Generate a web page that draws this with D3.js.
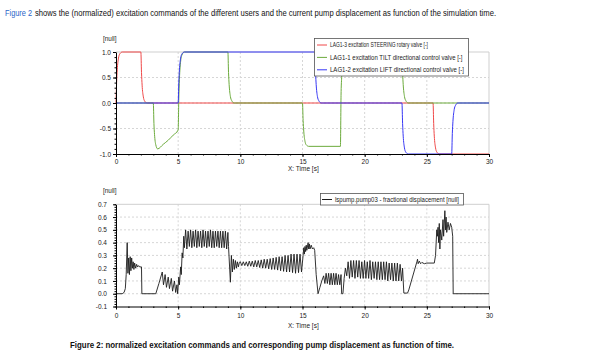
<!DOCTYPE html>
<html>
<head>
<meta charset="utf-8">
<script src="https://cdn.jsdelivr.net/npm/d3@7"></script>
<style>
  body { margin: 0; background: #fff; }
  svg { display: block; font-family: "Liberation Sans", Arial, sans-serif; }
</style>
</head>
<body>
<svg id="chart" width="591" height="360"></svg>
<script>
// ---- data ----
const timeTicks = [0, 5, 10, 15, 20, 25, 30];
const valveTicks = [-1, -0.5, 0, 0.5, 1];
const pumpTicks = [-0.1, 0, 0.1, 0.2, 0.3, 0.4, 0.5, 0.6, 0.7];

const valveNames = [
  "LAG1-3 excitation STEERING rotary valve [-]",
  "LAG1-1 excitation TILT directional control valve [-]",
  "LAG1-2 excitation LIFT directional control valve [-]"
];
const pumpName = "lspump.pump03 - fractional displacement [null]";

// [time s, value]
const steering = [
  [0, 0], [0.05, 0.4], [0.1, 0.65], [0.2, 0.88], [0.3, 0.96], [0.5, 1],
  [2.0, 1], [2.05, 0.6], [2.1, 0.35], [2.2, 0.12], [2.3, 0.04], [2.5, 0],
  [25.5, 0], [25.55, -0.4], [25.6, -0.65], [25.7, -0.88], [25.8, -0.96], [26.0, -1],
  [30, -1]
];
const tilt = [
  [0, 0], [3.0, 0], [3.05, -0.4], [3.1, -0.62], [3.2, -0.82], [3.35, -0.9],
  [3.8, -0.81], [4.2, -0.73], [4.6, -0.63], [5.0, -0.53],
  [5.05, 0.08], [5.1, 0.46], [5.2, 0.82], [5.3, 0.94], [5.5, 1],
  [9.0, 1], [9.05, 0.6], [9.1, 0.36], [9.2, 0.13], [9.3, 0.05], [9.5, 0],
  [15.0, 0], [15.05, -0.34], [15.1, -0.55], [15.2, -0.75], [15.3, -0.82], [15.5, -0.85],
  [18.05, -0.85], [18.1, 0.15], [18.15, 0.5], [18.25, 0.85], [18.35, 0.95], [18.55, 1],
  [23.0, 1], [23.05, 0.6], [23.1, 0.36], [23.2, 0.13], [23.3, 0.05], [23.5, 0],
  [30, 0]
];
const lift = [
  [0, 0], [5.0, 0], [5.05, 0.4], [5.1, 0.65], [5.2, 0.88], [5.3, 0.96], [5.5, 1],
  [16.0, 1], [16.05, 0.6], [16.1, 0.36], [16.2, 0.13], [16.3, 0.05], [16.5, 0],
  [23.0, 0], [23.05, -0.4], [23.1, -0.65], [23.2, -0.88], [23.3, -0.96], [23.5, -1],
  [27.0, -1], [27.05, -0.6], [27.1, -0.36], [27.2, -0.13], [27.3, -0.05], [27.5, 0],
  [30, 0]
];

const pump = [
  [0, 0], [0.5, 0], [0.65, 0.01], [0.75, 0.04], [0.82, 0.15], [0.9, 0.40], [0.96, 0.16],
  [1.02, 0.28], [1.08, 0.15], [1.14, 0.29], [1.2, 0.18], [1.26, 0.28], [1.32, 0.2],
  [1.38, 0.25], [1.44, 0.19], [1.5, 0.24], [1.58, 0.2], [1.66, 0.23], [1.74, 0.21],
  [1.82, 0.22], [1.9, 0.21], [2.05, 0.21], [2.08, 0],
  [3.2, 0], [3.45, 0.08], [3.72, 0.17], [3.82, 0.07], [3.95, 0.15], [4.06, 0.05],
  [4.2, 0.13], [4.3, 0.04], [4.45, 0.12], [4.55, 0.02], [4.7, 0.1], [4.8, 0.01],
  [4.9, 0.07], [4.96, 0], [5.05, 0.13], [5.1, 0.07], [5.2, 0.21], [5.25, 0.15],
  [5.32, 0.32], [5.38, 0.28], [5.45, 0.45],
  [5.5, 0.36], [5.6, 0.50], [5.7, 0.35], [5.8, 0.49], [5.9, 0.37], [6.0, 0.50],
  [6.1, 0.36], [6.2, 0.49], [6.3, 0.37], [6.4, 0.50], [6.5, 0.36], [6.6, 0.49],
  [6.7, 0.37], [6.8, 0.49], [6.9, 0.36], [7.0, 0.50], [7.1, 0.37], [7.2, 0.49],
  [7.3, 0.36], [7.4, 0.49], [7.5, 0.37], [7.6, 0.50], [7.7, 0.36], [7.8, 0.49],
  [7.9, 0.36], [8.0, 0.49], [8.1, 0.37], [8.2, 0.49], [8.3, 0.36], [8.4, 0.49],
  [8.5, 0.36], [8.6, 0.49], [8.7, 0.36], [8.8, 0.49], [8.9, 0.35], [9.0, 0.48],
  [9.05, 0.37], [9.2, 0.09], [9.28, 0.3], [9.36, 0.17], [9.44, 0.27], [9.52, 0.19],
  [9.6, 0.26], [9.68, 0.2], [9.76, 0.25], [9.84, 0.21], [9.92, 0.245],
  [10.0, 0.25], [10.12, 0.22], [10.24, 0.25], [10.36, 0.22], [10.48, 0.25], [10.6, 0.215],
  [10.72, 0.255], [10.84, 0.215], [10.96, 0.255], [11.08, 0.21], [11.2, 0.26], [11.32, 0.21],
  [11.44, 0.26], [11.56, 0.205], [11.68, 0.265], [11.8, 0.2], [11.92, 0.27], [12.04, 0.2],
  [12.16, 0.27], [12.28, 0.195], [12.4, 0.275], [12.52, 0.19], [12.64, 0.28], [12.76, 0.19],
  [12.88, 0.285], [13.0, 0.185], [13.12, 0.29], [13.24, 0.18], [13.36, 0.29], [13.48, 0.175],
  [13.6, 0.3], [13.72, 0.17], [13.84, 0.3], [13.96, 0.17], [14.08, 0.31], [14.2, 0.165],
  [14.32, 0.31], [14.44, 0.16], [14.56, 0.31], [14.68, 0.165], [14.8, 0.31], [14.92, 0.17],
  [15.05, 0.3], [15.1, 0.36], [15.15, 0.31], [15.2, 0.37], [15.25, 0.33], [15.3, 0.38],
  [15.35, 0.34], [15.45, 0.40], [15.5, 0.35], [15.55, 0.39], [15.6, 0.35], [15.7, 0.38],
  [15.8, 0.35], [15.9, 0.36], [15.98, 0.34], [16.1, 0.15], [16.25, 0],
  [16.4, 0.05], [16.55, 0.1], [16.7, 0.14], [16.8, 0.08], [16.9, 0.16], [17.0, 0.08],
  [17.1, 0.16], [17.2, 0.07], [17.3, 0.16], [17.4, 0.07], [17.5, 0.16], [17.6, 0.07],
  [17.7, 0.16], [17.8, 0.07], [17.9, 0.15], [18.0, 0.07], [18.1, 0.15], [18.15, 0],
  [18.25, 0], [18.35, 0.12], [18.45, 0.2],
  [18.56, 0.14], [18.67, 0.25], [18.78, 0.12], [18.89, 0.26], [19.0, 0.13], [19.11, 0.26],
  [19.22, 0.12], [19.33, 0.26], [19.44, 0.13], [19.55, 0.26], [19.66, 0.12], [19.77, 0.25],
  [19.88, 0.12], [19.99, 0.26], [20.1, 0.12], [20.21, 0.25], [20.32, 0.12], [20.43, 0.26],
  [20.54, 0.11], [20.65, 0.25], [20.76, 0.12], [20.87, 0.25], [20.98, 0.11], [21.09, 0.25],
  [21.2, 0.11], [21.31, 0.25], [21.42, 0.11], [21.53, 0.25], [21.64, 0.11], [21.75, 0.25],
  [21.86, 0.1], [21.97, 0.24], [22.08, 0.11], [22.19, 0.24], [22.3, 0.1], [22.41, 0.24],
  [22.52, 0.1], [22.63, 0.24], [22.74, 0.1], [22.85, 0.23], [22.96, 0.1], [23.05, 0.2],
  [23.15, 0.005], [23.45, 0.005], [23.55, 0.03], [24.2, 0.25], [24.25, 0.27], [24.3, 0.235],
  [24.4, 0.255], [24.5, 0.235], [24.6, 0.245], [24.8, 0.235], [25.0, 0.24], [25.6, 0.24],
  [25.7, 0.3], [25.8, 0.5], [25.85, 0.45], [25.9, 0.52], [25.95, 0.4], [26.0, 0.55],
  [26.05, 0.35], [26.1, 0.5], [26.2, 0.42], [26.3, 0.58], [26.35, 0.45], [26.45, 0.65],
  [26.5, 0.5], [26.55, 0.6], [26.6, 0.48], [26.7, 0.56], [26.8, 0.5], [26.9, 0.55],
  [27.0, 0.52], [27.08, 0.45], [27.12, 0], [30, 0]
];

const valveColors = ["#f04848", "#6cab3c", "#3737f5"];
const pumpColor = "#1c1c1c";

// ---- layout ----
const svg = d3.select("#chart");
const x = d3.scaleLinear().domain([0, 30]).range([116, 489]);
const yTop = d3.scaleLinear().domain([-1, 1]).range([154, 52]);
const yBot = d3.scaleLinear().domain([-0.1, 0.7]).range([306.5, 204.3]);

// header text
svg.append("text").attr("x", 5).attr("y", 15.5)
  .attr("font-size", 9).attr("fill", "#2a64c8")
  .attr("textLength", 27).attr("lengthAdjust", "spacingAndGlyphs")
  .text("Figure 2");
svg.append("text").attr("x", 35).attr("y", 15.5)
  .attr("font-size", 9).attr("fill", "#111")
  .attr("textLength", 461).attr("lengthAdjust", "spacingAndGlyphs")
  .text("shows the (normalized) excitation commands of the different users and the current pump displacement as function of the simulation time.");

// caption
svg.append("text").attr("x", 70).attr("y", 348)
  .attr("font-size", 8.2).attr("font-weight", "bold").attr("fill", "#111")
  .attr("textLength", 384).attr("lengthAdjust", "spacingAndGlyphs")
  .text("Figure 2: normalized excitation commands and corresponding pump displacement as function of time.");

function drawPanel(y, yTicks, yMinorStep, yPad, xPad) {
  const g = svg.append("g");
  const [bottom, top] = y.range();
  const [y0, y1] = y.domain();

  // dashed grid
  g.append("g").selectAll("line").data(timeTicks.slice(1, -1)).join("line")
    .attr("x1", d => x(d)).attr("x2", d => x(d))
    .attr("y1", top).attr("y2", bottom)
    .attr("stroke", "#d6d6d6").attr("stroke-dasharray", "2,2");
  g.append("g").selectAll("line").data(yTicks.slice(1, -1)).join("line")
    .attr("x1", x(0)).attr("x2", x(30))
    .attr("y1", d => y(d)).attr("y2", d => y(d))
    .attr("stroke", "#d6d6d6").attr("stroke-dasharray", "2,2");
  // top / right frame
  g.append("line").attr("x1", x(0)).attr("x2", x(30)).attr("y1", top).attr("y2", top)
    .attr("stroke", "#cfcfcf");
  g.append("line").attr("x1", x(30)).attr("x2", x(30)).attr("y1", top).attr("y2", bottom)
    .attr("stroke", "#cfcfcf");

  const lines = g.append("g");

  // axes
  const minorY = d3.range(0, Math.round((y1 - y0) / yMinorStep) + 1).map(i => y0 + i * yMinorStep);
  g.append("g").attr("transform", `translate(${x(0)},0)`)
    .call(d3.axisLeft(y).tickValues(minorY).tickSize(1.5).tickFormat(""))
    .call(a => a.select(".domain").remove());
  g.append("g").attr("transform", `translate(${x(0)},0)`)
    .call(d3.axisLeft(y).tickValues(yTicks).tickSize(3).tickSizeOuter(0)
      .tickPadding(yPad).tickFormat(d => d.toFixed(1)))
    .attr("font-size", 6.5).attr("font-family", null);
  g.append("g").attr("transform", `translate(0,${bottom})`)
    .call(d3.axisBottom(x).tickValues(d3.range(0, 31)).tickSize(1.5).tickFormat(""))
    .call(a => a.select(".domain").remove());
  g.append("g").attr("transform", `translate(0,${bottom})`)
    .call(d3.axisBottom(x).tickValues(timeTicks).tickSize(3).tickSizeOuter(0).tickPadding(xPad))
    .attr("font-size", 6.5).attr("font-family", null);
  g.selectAll(".tick text").attr("fill", "#222");

  // unit + axis labels
  g.append("text").attr("x", 103).attr("y", top - 11.5)
    .attr("font-size", 6.4).attr("fill", "#222").text("[null]");
  g.append("text").attr("x", 288).attr("y", bottom + (xPad > 3 ? 21 : 17))
    .attr("font-size", 6.5).attr("fill", "#222").text("X: Time [s]");
  return lines;
}

// ---- top: valve excitations ----
const topLines = drawPanel(yTop, valveTicks, 0.1, 2, 2.5);
const valveLine = d3.line().x(d => x(d[0])).y(d => yTop(d[1])).curve(d3.curveMonotoneX);
[steering, tilt, lift].forEach((s, i) => {
  topLines.append("path").datum(s).attr("d", valveLine)
    .attr("fill", "none").attr("stroke", valveColors[i]).attr("stroke-width", 1);
});

const leg1 = svg.append("g");
leg1.append("rect").attr("x", 314.5).attr("y", 38.5).attr("width", 154).attr("height", 37.5)
  .attr("fill", "#fff").attr("stroke", "#555").attr("stroke-width", 0.8);
const legWidths = [98, 132.5, 134];
valveNames.forEach((name, i) => {
  const ly = 45 + i * 12.4;
  leg1.append("line").attr("x1", 317).attr("x2", 327).attr("y1", ly).attr("y2", ly)
    .attr("stroke", valveColors[i]).attr("stroke-width", 1);
  leg1.append("text").attr("x", 330).attr("y", ly + 2.3)
    .attr("font-size", 6.4).attr("fill", "#222")
    .attr("textLength", legWidths[i]).attr("lengthAdjust", "spacingAndGlyphs")
    .text(name);
});

// ---- bottom: pump displacement ----
const botLines = drawPanel(yBot, pumpTicks, 0.02, 6, 4);
const pumpLine = d3.line().x(d => x(d[0])).y(d => yBot(d[1]));
botLines.append("path").datum(pump).attr("d", pumpLine)
  .attr("fill", "none").attr("stroke", pumpColor).attr("stroke-width", 0.9)
  .attr("stroke-linejoin", "round");

const leg2 = svg.append("g");
leg2.append("rect").attr("x", 320.5).attr("y", 193.5).attr("width", 143).attr("height", 11.5)
  .attr("fill", "#fff").attr("stroke", "#555").attr("stroke-width", 0.8);
leg2.append("line").attr("x1", 322).attr("x2", 332).attr("y1", 199.5).attr("y2", 199.5)
  .attr("stroke", pumpColor).attr("stroke-width", 1);
leg2.append("text").attr("x", 335).attr("y", 201.8)
  .attr("font-size", 6.4).attr("fill", "#222")
  .attr("textLength", 124).attr("lengthAdjust", "spacingAndGlyphs")
  .text(pumpName);
</script>
</body>
</html>
